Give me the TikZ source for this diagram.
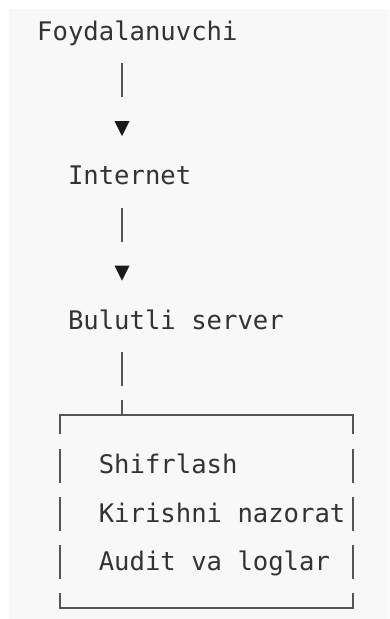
\documentclass[tikz,border=0pt]{standalone}
\usepackage{fontspec}
\newfontfamily\monofont{DejaVu Sans Mono}
\usetikzlibrary{calc}
\definecolor{bgc}{HTML}{F8F8F8}
\definecolor{textc}{HTML}{333333}
\definecolor{linec}{HTML}{555555}
\definecolor{arrowc}{HTML}{1A1A1A}
\begin{document}
\begin{tikzpicture}[x=1pt,y=1pt,
  txt/.style={font=\monofont\fontsize{25.6}{30}\selectfont, text=textc, anchor=base west, inner sep=0pt},
  bar/.style={draw=linec, line width=1.3pt},
  tri/.style={fill=arrowc}]
\useasboundingbox (0,0) rectangle (389,-619);
\fill[bgc] (9,-9) rectangle (389,-619);
% column of the connectors
\coordinate (c5) at (122,0);
% labels
\node[txt] (user)  at (37,-40)     {Foydalanuvchi};
\node[txt] (net)   at (67.8,-184.6) {Internet};
\node[txt] (cloud) at (67.8,-329)   {Bulutli server};
\node[txt] (enc)   at (98.6,-473.8) {Shifrlash};
\node[txt] (acc)   at (98.6,-522)   {Kirishni nazorat};
\node[txt] (aud)   at (98.6,-570.2) {Audit va loglar};
% box corners
\coordinate (tl) at (60,-415);
\coordinate (br) at (353,-608);
% connector user -> internet
\draw[bar] ($(user.base west -| c5)+(0,-23)$) -- ++(0,-34);
\fill[tri] ($(user.base west -| c5)+(-7.5,-81)$) -- ++(15,0) -- ++(-7.5,-15) -- cycle;
% connector internet -> cloud
\draw[bar] ($(net.base west -| c5)+(0,-23)$) -- ++(0,-34);
\fill[tri] ($(net.base west -| c5)+(-7.5,-81)$) -- ++(15,0) -- ++(-7.5,-15) -- cycle;
% connector cloud -> box
\draw[bar] ($(cloud.base west -| c5)+(0,-23)$) -- ++(0,-34);
\draw[bar] ($(cloud.base west -| c5)+(0,-71)$) -- (tl -| c5);
% box frame (glyph-like segments)
\draw[bar] ($(tl)+(0,-19)$) -- (tl) -- (tl -| br) -- ++(0,-19);
\draw[bar] ($(br -| tl)+(0,14.6)$) -- (br -| tl) -- (br) -- ++(0,14.6);
\foreach \n in {enc,acc,aud}{
  \draw[bar] ($(tl |- \n.base)+(0,25)$) -- ++(0,-34);
  \draw[bar] ($(br |- \n.base)+(0,25)$) -- ++(0,-34);
}
\end{tikzpicture}
\end{document}
